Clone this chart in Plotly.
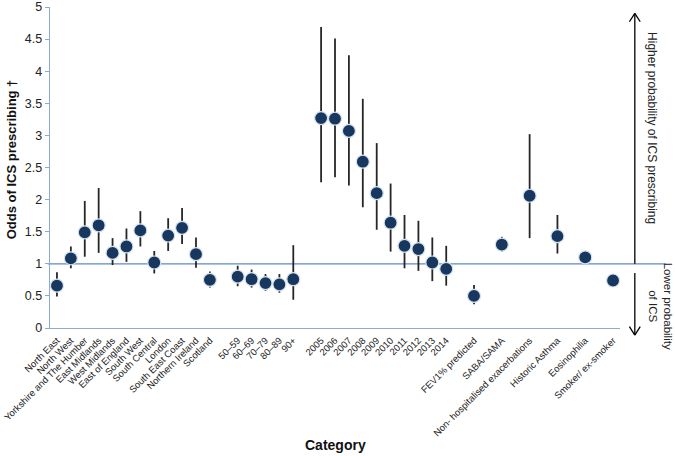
import plotly.graph_objects as go

# ---- data ----
regions = ["North East", "North West", "Yorkshire and The Humber", "East Midlands",
           "West Midlands", "East of England", "South West", "South Central", "London",
           "South East Coast", "Northern Ireland", "Scotland"]
region_or = [0.66, 1.085, 1.49, 1.60, 1.17, 1.27, 1.52, 1.02, 1.44, 1.56, 1.15, 0.75]
region_lo = [0.49, 0.93, 1.11, 1.17, 0.98, 1.03, 1.27, 0.85, 1.20, 1.31, 0.94, 0.63]
region_hi = [0.87, 1.27, 1.98, 2.18, 1.40, 1.55, 1.82, 1.20, 1.71, 1.87, 1.41, 0.88]

ages = ["50\u201359", "60\u201369", "70\u201379", "80\u201389", "90+"]
age_or = [0.80, 0.76, 0.70, 0.68, 0.76]
age_lo = [0.65, 0.63, 0.58, 0.55, 0.44]
age_hi = [0.97, 0.91, 0.84, 0.84, 1.29]

years = ["2005", "2006", "2007", "2008", "2009", "2010", "2011", "2012", "2013", "2014"]
year_or = [3.27, 3.26, 3.07, 2.59, 2.10, 1.64, 1.28, 1.23, 1.02, 0.92]
year_lo = [2.27, 2.35, 2.22, 1.88, 1.53, 1.19, 0.93, 0.89, 0.73, 0.66]
year_hi = [4.69, 4.51, 4.25, 3.57, 2.88, 2.25, 1.76, 1.67, 1.41, 1.28]

clinical = ["FEV1% predicted", "SABA/SAMA", "Non- hospitalised exacerbations",
            "Historic Asthma", "Eosinophilia", "Smoker/ ex-smoker"]
clin_or = [0.50, 1.30, 2.06, 1.43, 1.10, 0.74]
clin_lo = [0.37, 1.19, 1.40, 1.16, 1.02, 0.72]
clin_hi = [0.67, 1.42, 3.02, 1.76, 1.20, 0.77]

# groups separated by one empty slot on the category axis
groups = [(regions, region_or, region_lo, region_hi),
          (ages, age_or, age_lo, age_hi),
          (years, year_or, year_lo, year_hi)]
groups += [([c], [o], [l], [h]) for c, o, l, h in zip(clinical, clin_or, clin_lo, clin_hi)]

xs, labels, ors, los, his = [], [], [], [], []
pos = 0
for names, o, l, h in groups:
    for i, n in enumerate(names):
        xs.append(pos)
        labels.append(n)
        ors.append(o[i]); los.append(l[i]); his.append(h[i])
        pos += 1
    pos += 1  # gap
last = xs[-1]

fig = go.Figure()
fig.add_trace(go.Scatter(
    x=xs, y=ors, mode="markers",
    marker=dict(size=13, color="#17375E", line=dict(color="#D6E2F0", width=1.2)),
    error_y=dict(type="data", symmetric=False,
                 array=[h - o for h, o in zip(his, ors)],
                 arrayminus=[o - l for o, l in zip(ors, los)],
                 color="#262626", thickness=1.8, width=0),
    showlegend=False, hoverinfo="skip", cliponaxis=False))

axis_col = "#8EAAD0"
ref_col = "#5B8AC4"

fig.update_layout(
    width=675, height=456,
    margin=dict(l=50, r=55, t=7, b=128, autoexpand=False),
    paper_bgcolor="white", plot_bgcolor="white",
    hovermode=False,
    font=dict(family="Liberation Sans, Arial, sans-serif", color="#222222"),
    xaxis=dict(range=[-0.5, last + 0.5], tickmode="array", tickvals=xs, ticktext=labels,
               tickangle=-45, tickfont=dict(size=9.5, color="#222222"), automargin=False,
               ticklabeloverflow="allow",
               showgrid=False, zeroline=False, showline=True, linecolor=axis_col,
               linewidth=1.3, ticks="outside", ticklen=2, tickcolor="rgba(0,0,0,0)"),
    yaxis=dict(range=[0, 5], tickmode="array", tickvals=[0, 0.5, 1, 1.5, 2, 2.5, 3, 3.5, 4, 4.5, 5],
               ticktext=["0", "0.5", "1", "1.5", "2", "2.5", "3", "3.5", "4", "4.5", "5"],
               tickfont=dict(size=12.5, color="#222222"), automargin=False,
               showgrid=False, zeroline=False, showline=True, linecolor=axis_col,
               linewidth=1.3, ticks="outside", ticklen=4, tickcolor=axis_col),
)

# reference line at odds = 1 (extends past plot area)
fig.add_shape(type="line", xref="paper", yref="paper", x0=-0.004, x1=1.08, y0=0.2, y1=0.2,
              line=dict(color=ref_col, width=1.3), layer="below")

# arrows on the right
ax = 1.026
dx, dy = 0.0095, 0.026
arrow = dict(color="black", width=1.3)
fig.add_shape(type="line", xref="paper", yref="paper", x0=ax, x1=ax, y0=0.2, y1=0.98, line=arrow)
fig.add_shape(type="line", xref="paper", yref="paper", x0=ax - dx, x1=ax, y0=0.98 - dy, y1=0.98, line=arrow)
fig.add_shape(type="line", xref="paper", yref="paper", x0=ax + dx, x1=ax, y0=0.98 - dy, y1=0.98, line=arrow)
fig.add_shape(type="line", xref="paper", yref="paper", x0=ax, x1=ax, y0=0.171, y1=-0.022, line=arrow)
fig.add_shape(type="line", xref="paper", yref="paper", x0=ax - dx, x1=ax, y0=-0.022 + dy, y1=-0.022, line=arrow)
fig.add_shape(type="line", xref="paper", yref="paper", x0=ax + dx, x1=ax, y0=-0.022 + dy, y1=-0.022, line=arrow)

fig.add_annotation(text="Higher probability of ICS prescribing", xref="paper", yref="paper",
                   x=1.056, y=0.623, xanchor="center", yanchor="middle",
                   showarrow=False, textangle=90, font=dict(size=12, color="#222222"))
fig.add_annotation(text="Lower probability<br>of ICS", xref="paper", yref="paper",
                   x=1.071, y=0.068, xanchor="center", yanchor="middle",
                   showarrow=False, textangle=90, font=dict(size=11.5, color="#222222"))

# axis titles
fig.add_annotation(text="<b>Odds of ICS prescribing \u2020</b>", xref="paper", yref="paper",
                   x=-0.067, y=0.525, xanchor="center", yanchor="middle",
                   showarrow=False, textangle=-90, font=dict(size=13, color="#111111"))
fig.add_annotation(text="<b>Category</b>", xref="paper", yref="paper",
                   x=0.5, y=-0.364, xanchor="center", yanchor="middle", showarrow=False,
                   font=dict(size=14, color="#111111"))

fig.write_html("out.html", config={"displayModeBar": False, "staticPlot": True},
               post_script="document.body.style.margin='0';")
